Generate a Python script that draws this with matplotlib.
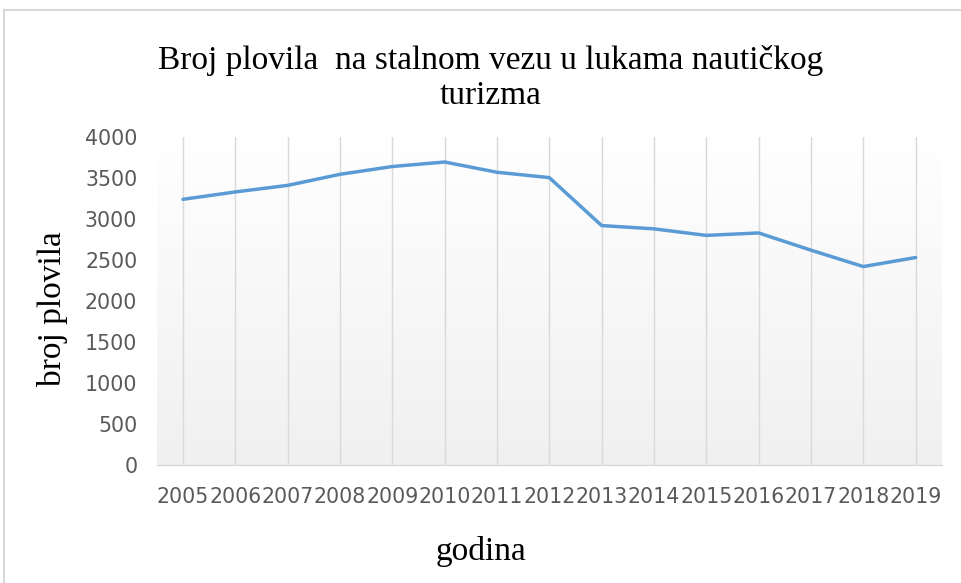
import numpy as np
import matplotlib
matplotlib.use("Agg")
import matplotlib.pyplot as plt
from matplotlib.colors import LinearSegmentedColormap
from matplotlib.patches import Rectangle

# data
years = ['2005', '2006', '2007', '2008', '2009', '2010', '2011', '2012',
         '2013', '2014', '2015', '2016', '2017', '2018', '2019']
vessels = [3240, 3330, 3410, 3545, 3640, 3695, 3570, 3505,
           2920, 2880, 2800, 2830, 2620, 2420, 2530]

title = 'Broj plovila  na stalnom vezu u lukama nautičkog\nturizma'
x_label = 'godina'
y_label = 'broj plovila'

fig = plt.figure(figsize=(9.62, 5.83), dpi=100)
ax = fig.add_axes([0.163, 0.2024, 0.816, 0.5626])

x = np.arange(len(years))

# gradient plot area background (white at top, light grey at bottom)
grad = np.linspace(1, 0, 256).reshape(-1, 1)
cmap = LinearSegmentedColormap.from_list('bg', ['#f0f0f0', '#ffffff'])
ax.imshow(grad, cmap=cmap, aspect='auto', extent=(-0.5, len(years) - 0.5, 0, 4000),
          zorder=0, vmin=0, vmax=1)

ax.plot(x, vessels, color='#5B9BD5', linewidth=2.5, zorder=3,
        solid_joinstyle='round', solid_capstyle='round')

ax.set_xlim(-0.5, len(years) - 0.5)
ax.set_ylim(0, 4000)
ax.set_yticks(range(0, 4001, 500))
ax.set_xticks(x)
ax.set_xticklabels(years)

ax.grid(axis='x', color='#d9d9d9', linewidth=1.0, zorder=1)
ax.grid(axis='y', visible=False)
for side in ['top', 'right', 'left']:
    ax.spines[side].set_visible(False)
ax.spines['bottom'].set_color('#d9d9d9')
ax.spines['bottom'].set_linewidth(1.0)
ax.tick_params(length=0, labelcolor='#595959', labelsize=14.8)
ax.tick_params(axis='y', pad=14)
ax.tick_params(axis='x', pad=16)

fig.text(0.51, 0.866, title, ha='center', va='center', family='Liberation Serif',
         fontsize=24, linespacing=1.2)
ax.set_xlabel(x_label, family='Liberation Serif', fontsize=24)
ax.set_ylabel(y_label, family='Liberation Serif', fontsize=24)
ax.xaxis.set_label_coords(0.413, -0.215)
ax.yaxis.set_label_coords(-0.113, 0.476)

# chart border
fig.patches.append(Rectangle((4 / 962, -0.05), 1.0, (583 - 10) / 583 + 0.05,
                             transform=fig.transFigure, fill=False,
                             edgecolor='#d9d9d9', linewidth=1.5))

fig.savefig('out.png', dpi=100)
